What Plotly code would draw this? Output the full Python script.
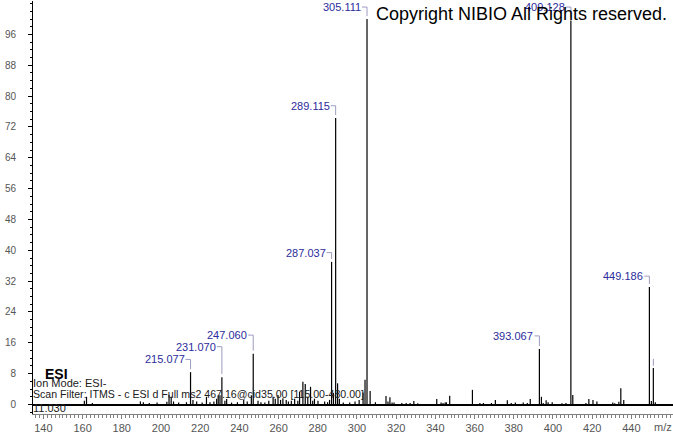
import plotly.graph_objects as go

# ---------------- data ----------------
peak_mz = [
    160.9, 162.0, 165.0, 189.5, 191.0, 194.0, 198.0, 203.0, 204.1, 205.2, 206.4, 209.0, 213.0,
    215.077, 216.3, 218.2, 221.0, 223.2, 225.0, 227.0, 228.4, 229.2, 230.1, 231.070, 232.6, 233.5,
    236.0, 239.0, 242.2, 244.0, 246.1, 247.060, 249.5, 251.0, 253.0, 255.0, 257.2, 258.3, 259.7,
    261.0, 262.2, 263.9, 265.0, 266.5, 268.2, 269.8, 270.7, 272.4, 273.6, 274.9, 276.3, 277.4,
    278.3, 280.1, 283.5, 285.0, 286.0, 287.037, 288.0, 289.115, 290.1, 291.0, 293.0, 296.3, 299.0,
    301.1, 303.1, 304.1, 305.111, 306.7, 309.4, 314.8, 315.8, 316.8, 317.9, 318.9, 322.9, 325.1,
    327.1, 329.0, 331.0, 340.7, 342.9, 343.9, 345.0, 345.6, 347.3, 358.9, 362.7, 364.5, 368.6,
    370.6, 376.7, 378.7, 380.8, 384.8, 386.9, 388.4, 393.067, 394.1, 395.0, 396.5, 397.5, 399.6,
    404.6, 406.6, 409.128, 410.1, 416.8, 418.3, 420.4, 422.4, 430.5, 431.5, 433.6, 434.6, 436.1,
    449.186, 450.2, 451.2, 452.2,
]
peak_intensity = [
    1.0, 2.0, 0.4, 0.8, 0.6, 0.4, 0.5, 0.7, 2.5, 2.0, 0.8, 0.5, 0.6,
    8.4, 1.2, 0.8, 0.5, 2.0, 0.6, 0.8, 1.5, 2.4, 2.4, 7.1, 1.0, 1.4,
    0.5, 0.6, 1.2, 0.8, 2.4, 13.2, 1.0, 0.6, 0.5, 1.0, 2.0, 1.5, 2.5,
    1.2, 1.6, 1.2, 0.8, 1.0, 1.5, 1.0, 3.3, 5.9, 5.3, 2.0, 4.6, 1.0,
    1.5, 1.0, 0.8, 0.6, 1.2, 37.0, 3.0, 74.3, 5.5, 1.5, 0.5, 0.5, 0.8,
    1.2, 3.1, 6.4, 100.0, 3.5, 0.6, 2.2, 0.8, 1.9, 0.5, 0.5, 0.4, 0.4,
    0.4, 0.9, 0.3, 1.4, 0.5, 0.4, 0.5, 0.6, 2.3, 3.8, 0.4, 0.4, 0.4,
    1.2, 1.1, 0.4, 0.5, 0.5, 0.4, 1.4, 14.4, 2.0, 0.4, 1.1, 0.6, 0.6,
    0.3, 0.4, 99.6, 2.5, 0.4, 1.4, 1.2, 0.8, 0.5, 0.3, 0.7, 4.2, 1.2,
    30.5, 0.9, 9.5, 0.6,
]

# labelled peaks and the height (in % units) where each label sits
label_mz = [215.077, 231.070, 247.060, 287.037, 289.115, 305.111, 393.067, 409.128, 449.186]
label_intensity = [8.4, 7.1, 13.2, 37.0, 74.3, 100.0, 14.4, 99.6, 30.5]
label_height = [11.7, 15.0, 18.0, 39.4, 77.5, 103.1, 17.8, 103.1, 33.3]

# peak with a marker tick but no visible label
tick_only_mz = [451.2]
tick_only_intensity = [9.5]

y_ticks = [0, 8, 16, 24, 32, 40, 48, 56, 64, 72, 80, 88, 96]
x_ticks = [140, 160, 180, 200, 220, 240, 260, 280, 300, 320, 340, 360, 380, 400, 420, 440]

info_lines = [
    "Ion Mode: ESI-",
    "Scan Filter: ITMS - c ESI d Full ms2 467.16@cid35.00 [115.00-480.00]",
    "11.030",
]

# ---------------- figure ----------------
W, H = 673, 433
ML, MR, MT, MB = 33, 0, 1, 19
X_RANGE = [134.7, 461.23]
Y_RANGE = [-2.46, 104.67]
px_x = (W - ML - MR) / (X_RANGE[1] - X_RANGE[0])
px_y = (H - MT - MB) / (Y_RANGE[1] - Y_RANGE[0])

FONT = "Arial, Liberation Sans, sans-serif"

sx, sy = [], []
for m, v in zip(peak_mz, peak_intensity):
    sx += [m, m, None]
    sy += [0, v, None]

bx, by = [], []
for m, v, h in zip(label_mz, label_intensity, label_height):
    bx += [m - 5 / px_x, m, m, None]
    by += [h, h, min(h, v + 3 / px_y), None]
for m, v in zip(tick_only_mz, tick_only_intensity):
    bx += [m, m, None]
    by += [v + 9 / px_y, v + 2 / px_y, None]

fig = go.Figure()
fig.add_trace(go.Scatter(x=bx, y=by, mode="lines", cliponaxis=False,
                         line=dict(color="#9c9cc0", width=1), hoverinfo="skip"))
fig.add_trace(go.Scatter(x=sx, y=sy, mode="lines",
                         line=dict(color="black", width=1.2), hoverinfo="skip"))

annotations = []
for m, h in zip(label_mz, label_height):
    annotations.append(dict(x=m, y=h, xref="x", yref="y", text=f"{m:.3f}",
                            showarrow=False, xanchor="right", yanchor="middle",
                            xshift=-4, font=dict(family=FONT, size=11, color="#2b2b9c")))

def pxy(y):
    return (H - MB - y) / (H - MT - MB)

def pxx(x):
    return (x - ML) / (W - ML - MR)

annotations.append(dict(x=pxx(521), y=pxy(14), xref="paper", yref="paper",
                        text="Copyright NIBIO All Rights reserved.", showarrow=False,
                        xanchor="center", yanchor="middle",
                        font=dict(family=FONT, size=18, color="black")))
annotations.append(dict(x=pxx(43), y=pxy(374), xref="paper", yref="paper",
                        text="<b>ESI</b>", showarrow=False, xanchor="left", yanchor="middle",
                        font=dict(family=FONT, size=14, color="black")))
for txt, yy, fs in zip(info_lines, [382.7, 394, 407.5], [11, 10.6, 11]):
    annotations.append(dict(x=pxx(31), y=pxy(yy), xref="paper", yref="paper",
                            text=txt, showarrow=False, xanchor="left", yanchor="middle",
                            font=dict(family=FONT, size=fs, color="#202020")))
annotations.append(dict(x=pxx(663), y=pxy(427), xref="paper", yref="paper",
                        text="m/z", showarrow=False, xanchor="center", yanchor="middle",
                        font=dict(family=FONT, size=11, color="#555555")))

fig.update_layout(
    width=W, height=H,
    margin=dict(l=ML, r=MR, t=MT, b=MB, pad=0, autoexpand=False),
    paper_bgcolor="white", plot_bgcolor="white",
    showlegend=False,
    annotations=annotations,
    xaxis=dict(range=X_RANGE, showgrid=False, zeroline=False, automargin=False,
               showline=True, linecolor="#808080", linewidth=1,
               tickmode="array", tickvals=x_ticks, ticks="outside", ticklen=4,
               tickcolor="#808080", tickfont=dict(family=FONT, size=11, color="#555555"),
               minor=dict(dtick=2, tick0=0, ticks="outside", ticklen=3, tickcolor="#808080")),
    yaxis=dict(range=Y_RANGE, showgrid=False, zeroline=True, zerolinecolor="black",
               zerolinewidth=1.5, automargin=False,
               showline=True, linecolor="black", linewidth=1,
               tickmode="array", tickvals=y_ticks, ticks="outside", ticklen=4,
               tickcolor="black", ticklabelstandoff=10,
               tickfont=dict(family=FONT, size=10, color="#555555"),
               minor=dict(dtick=2, tick0=0, ticks="outside", ticklen=2, tickcolor="black")),
)

fig.write_html(
    "out.html",
    config={"displayModeBar": False},
    post_script="document.body.style.margin='0';document.body.style.overflow='hidden';",
)
